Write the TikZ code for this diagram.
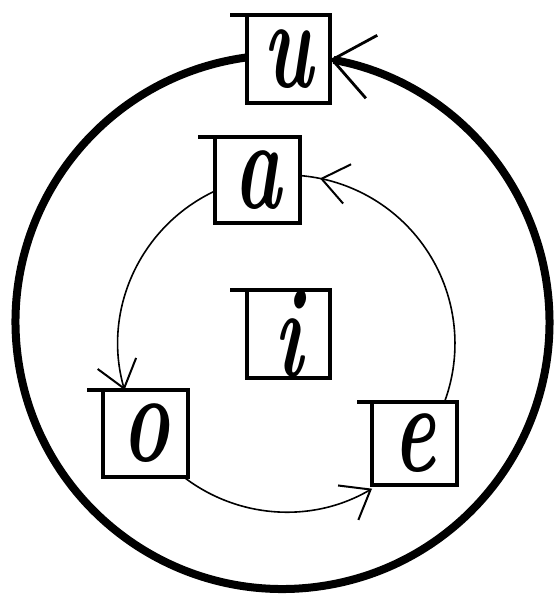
\documentclass[tikz,border=0pt]{standalone}
\usetikzlibrary{arrows.meta,decorations.markings}
\newcommand{\handletter}[1]{\scalebox{0.62}[1]{#1}}
\tikzset{
  letterbox/.style={draw, line width=3.2pt, inner sep=0pt, outer sep=0pt,
    font=\fontsize{128}{128}\selectfont\bfseries\itshape},
  overhang/.style={line width=3.2pt},
  ring/.style={line width=8pt},
  cyc/.style={line width=1.6pt},
  bighandbarb/.tip={Straight Barb[length=40pt,width=64pt,line width=2.8pt]},
  handbarb/.tip={Straight Barb[length=26pt,width=40pt,line width=2pt]}
}
\begin{document}
\begin{tikzpicture}[x=1pt,y=1pt]
\useasboundingbox (0,0) rectangle (557,594);
% letter boxes
\node[letterbox, minimum width=83pt, minimum height=88pt] (u) at (288.5,535) {\handletter{u}};
\node[letterbox, minimum width=85pt, minimum height=86pt] (a) at (257.5,414) {\handletter{a}};
\node[letterbox, minimum width=83pt, minimum height=88pt] (i) at (288.5,260) {\handletter{i}};
\node[letterbox, minimum width=85pt, minimum height=87pt] (o) at (145.5,160.5) {\handletter{o}};
\node[letterbox, minimum width=85pt, minimum height=83pt] (e) at (414.5,150.5) {\handletter{e}};
% overhanging top edges
\draw[overhang] (u.north west) -- ++(-17,0);
\draw[overhang] (a.north west) -- ++(-17,0);
\draw[overhang] (i.north west) -- ++(-17,0);
\draw[overhang] (o.north west) -- ++(-16,0);
\draw[overhang] (e.north west) -- ++(-15,0);
% outer ring: from u round to u
\draw[ring, -{bighandbarb}] ([yshift=1.6]u.west) arc[start angle=97.64, end angle=439.75, radius=267];
% inner cycle a -> o -> e -> a
\draw[cyc, -{handbarb}] ([yshift=-11]a.west) arc[start angle=115.1, end angle=196.0, radius=168.5];
\draw[cyc, -{handbarb}] ([xshift=-4.3]o.south east) arc[start angle=232.4, end angle=300.5, radius=168.5];
\draw[cyc, postaction={decorate, decoration={markings, mark=at position 0.935 with {\arrow{handbarb}}}}]
  ([xshift=30]e.north) arc[start angle=-20.3, end angle=85.4, radius=168.5];
\end{tikzpicture}
\end{document}
